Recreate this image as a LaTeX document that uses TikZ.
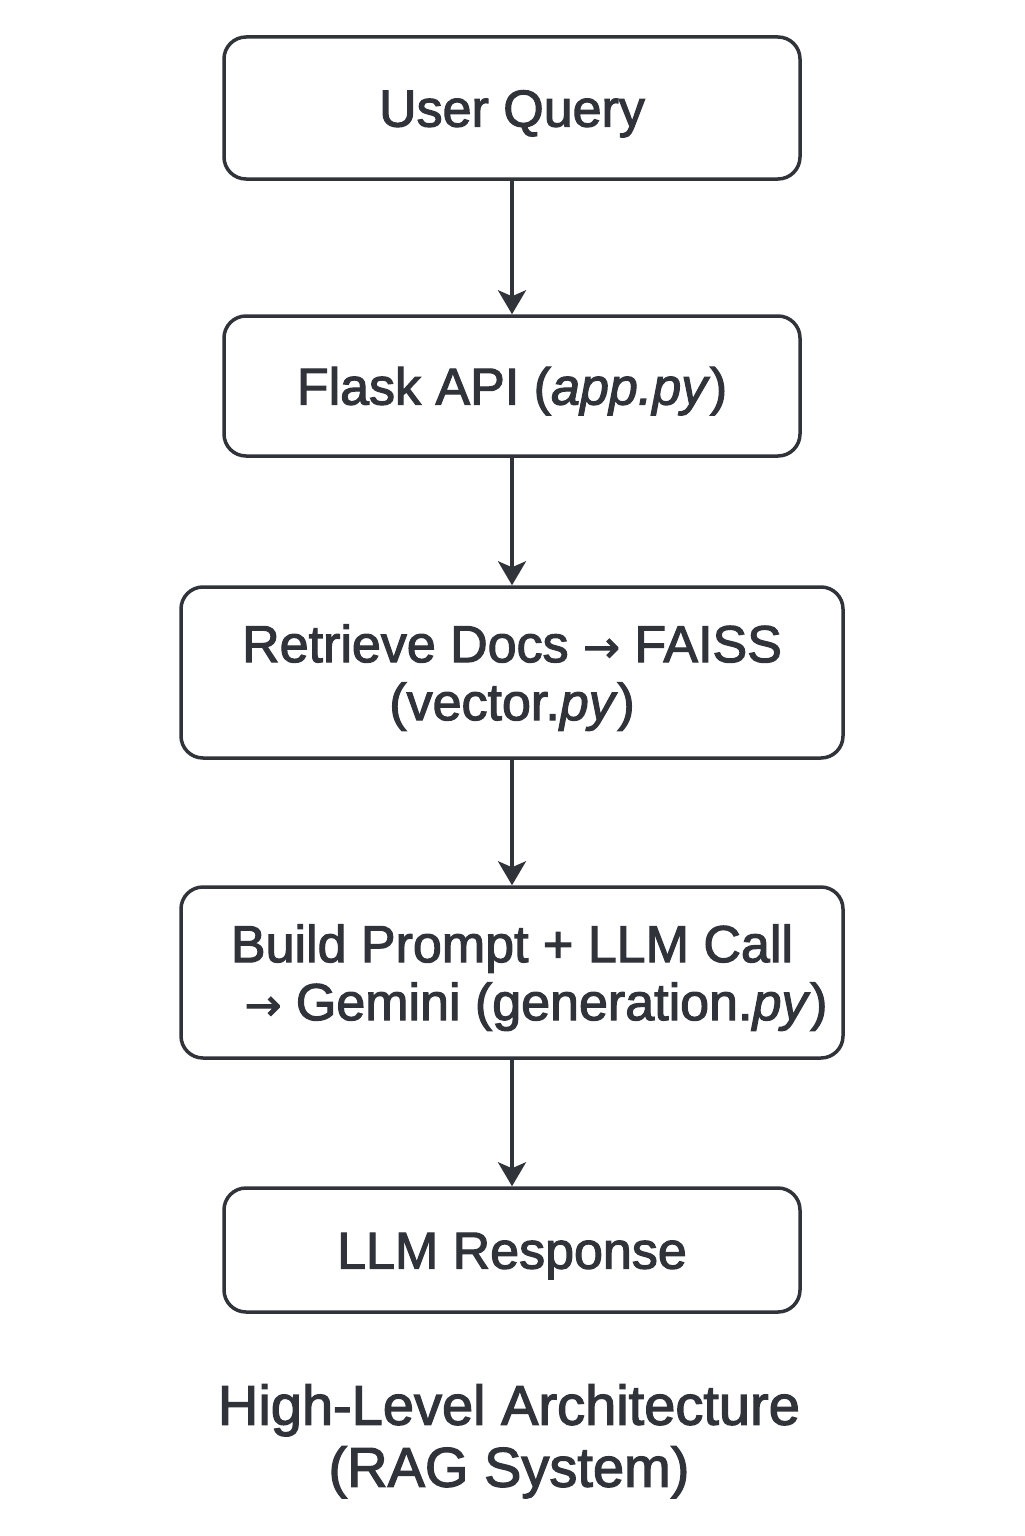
\documentclass[tikz,border=0pt]{standalone}
\usepackage{fontspec}
\setmainfont{Liberation Sans}
\newfontfamily\medium{Liberation Sans}[FakeBold=2.2]
\newfontfamily\arrowfont{DejaVu Sans}[FakeBold=2.2]
\usetikzlibrary{arrows.meta}
\definecolor{ink}{HTML}{30343A}
\newcommand{\rarr}{{\arrowfont\fontsize{22}{29}\selectfont →}}
\newcommand{\topstrut}{\rule{0pt}{24pt}}
\tikzset{
  box/.style={draw=ink, line width=1.75pt, rounded corners=11pt, fill=white,
    text=ink, align=center, inner sep=0pt, font=\medium\fontsize{26}{29}\selectfont},
  conn/.style={draw=ink, line width=1.6pt, -{Stealth[length=12pt,width=14pt,inset=3pt]}},
  titletext/.style={text=ink, align=center, font=\medium\fontsize{28}{31}\selectfont}
}
\begin{document}
\begin{tikzpicture}[x=0.5pt,y=-0.5pt]
\useasboundingbox[fill=white] (0,0) rectangle (1024,1536);
\node[box, minimum width=288pt, minimum height=71pt] (q) at (512,108) {\topstrut User Query};
\node[box, minimum width=288pt, minimum height=70pt] (f) at (512,386) {\topstrut Flask API (\textit{app.py})};
\node[box, minimum width=331pt, minimum height=85.5pt] (r) at (512,672.5) {\topstrut Retrieve Docs \rarr{} FAISS\\(vector.\textit{py})};
\node[box, minimum width=331pt, minimum height=85.5pt] (b) at (512,972.5) {\topstrut Build Prompt + LLM Call\\\hspace*{24pt}\rarr{} Gemini (generation.\textit{py})};
\node[box, minimum width=288pt, minimum height=62pt] (l) at (512,1250) {\topstrut LLM Response};
\draw[conn] (q) -- (f);
\draw[conn] (f) -- (r);
\draw[conn] (r) -- (b);
\draw[conn] (b) -- (l);
\node[titletext] (t) at (509,1436) {\rule{0pt}{25.5pt}High-Level Architecture\\(RAG System)};
\end{tikzpicture}
\end{document}
